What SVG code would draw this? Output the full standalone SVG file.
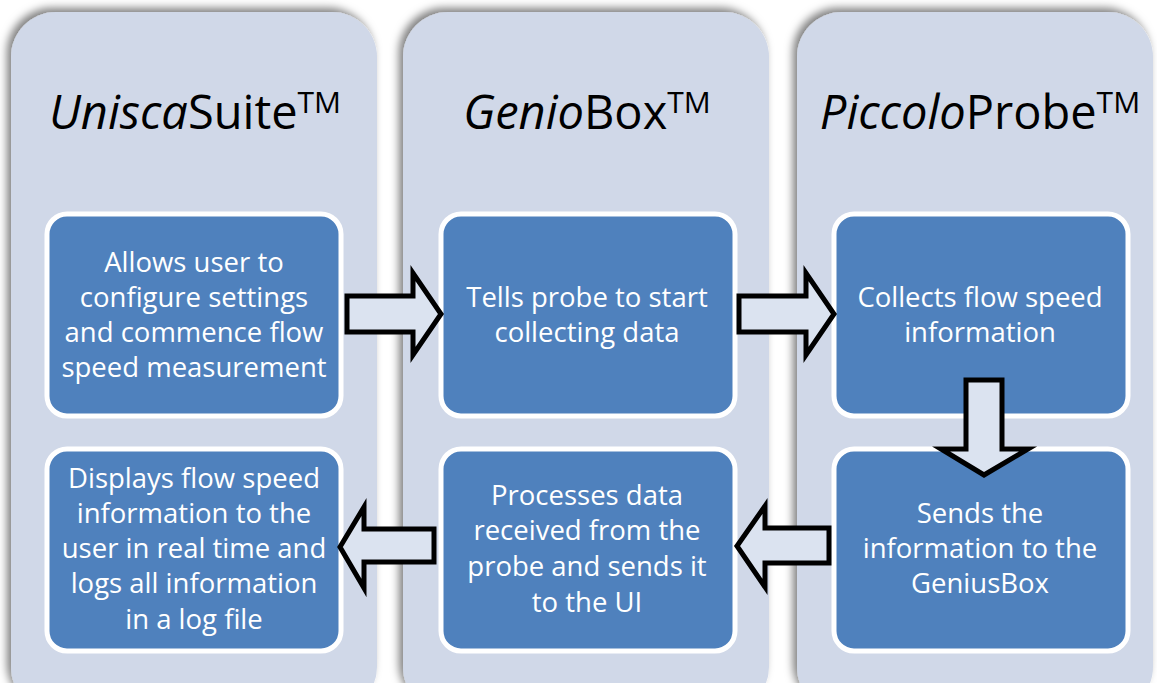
<svg xmlns="http://www.w3.org/2000/svg" width="1157" height="683" viewBox="0 0 1157 683">
<defs>
<filter id="sh" x="-10%" y="-10%" width="120%" height="120%">
<feDropShadow dx="-4" dy="-4" stdDeviation="4" flood-color="#000" flood-opacity="0.5"/>
</filter>
<style>
.col{fill:#d0d8e8;filter:url(#sh)}
.box{fill:#4f81bd;stroke:#fff;stroke-width:5}
.title{font-family:"Open Sans","Liberation Sans",sans-serif;font-size:47px;fill:#000;text-anchor:middle}
.tm{font-size:30px}
.t{font-family:"Open Sans","Liberation Sans",sans-serif;font-size:27.5px;fill:#fff;text-anchor:middle}
.arr{fill:#dbe3f0;stroke:#000;stroke-width:5;stroke-linejoin:miter}
</style>
</defs>
<rect width="1157" height="683" fill="#fff"/>
<g id="col-uniscasuite">
<rect class="col" x="11" y="12" width="366" height="700" rx="45"/>
<text class="title" x="195" y="129"><tspan font-style="italic">Unisca</tspan>Suite<tspan class="tm" dy="-16">TM</tspan></text>
</g>
<g id="col-geniobox">
<rect class="col" x="403" y="12" width="366" height="700" rx="45"/>
<text class="title" x="587" y="129"><tspan font-style="italic">Genio</tspan>Box<tspan class="tm" dy="-16">TM</tspan></text>
</g>
<g id="col-piccoloprobe">
<rect class="col" x="797" y="12" width="356" height="700" rx="45"/>
<text class="title" x="980" y="129"><tspan font-style="italic">Piccolo</tspan>Probe<tspan class="tm" dy="-16">TM</tspan></text>
</g>
<g id="n1">
<rect class="box" x="47" y="214" width="294" height="202" rx="20"/>
<text class="t"><tspan x="194" y="272">Allows user to</tspan><tspan x="194" y="307">configure settings</tspan><tspan x="194" y="342">and commence flow</tspan><tspan x="194" y="377">speed measurement</tspan></text>
</g>
<g id="n2">
<rect class="box" x="441" y="214" width="294" height="202" rx="20"/>
<text class="t"><tspan x="587" y="307">Tells probe to start</tspan><tspan x="587" y="342">collecting data</tspan></text>
</g>
<g id="n3">
<rect class="box" x="834" y="214" width="294" height="202" rx="20"/>
<text class="t"><tspan x="980" y="307">Collects flow speed</tspan><tspan x="980" y="342">information</tspan></text>
</g>
<g id="n4">
<rect class="box" x="834" y="449" width="294" height="202" rx="20"/>
<text class="t"><tspan x="980" y="523">Sends the</tspan><tspan x="980" y="558">information to the</tspan><tspan x="980" y="593">GeniusBox</tspan></text>
</g>
<g id="n5">
<rect class="box" x="441" y="449" width="294" height="202" rx="20"/>
<text class="t"><tspan x="587" y="505">Processes data</tspan><tspan x="587" y="540">received from the</tspan><tspan x="587" y="576">probe and sends it</tspan><tspan x="587" y="612">to the UI</tspan></text>
</g>
<g id="n6">
<rect class="box" x="47" y="449" width="294" height="202" rx="20"/>
<text class="t"><tspan x="194" y="488">Displays flow speed</tspan><tspan x="194" y="523">information to the</tspan><tspan x="194" y="558">user in real time and</tspan><tspan x="194" y="593">logs all information</tspan><tspan x="194" y="629">in a log file</tspan></text>
</g>
<g id="connectors">
<polygon class="arr" points="347,296 413,296 413,273 441,314 413,355 413,332 347,332"/>
<polygon class="arr" points="739,296 806,296 806,273 834,314 806,355 806,332 739,332"/>
<polygon class="arr" points="966,380 1002,380 1002,449 1028,449 984,475 941,449 966,449"/>
<polygon class="arr" points="829,528 765,528 765,506 737,546 765,587 765,563 829,563"/>
<polygon class="arr" points="434,529 364,529 364,507 340,547 364,588 364,562 434,562"/>
</g>
</svg>
